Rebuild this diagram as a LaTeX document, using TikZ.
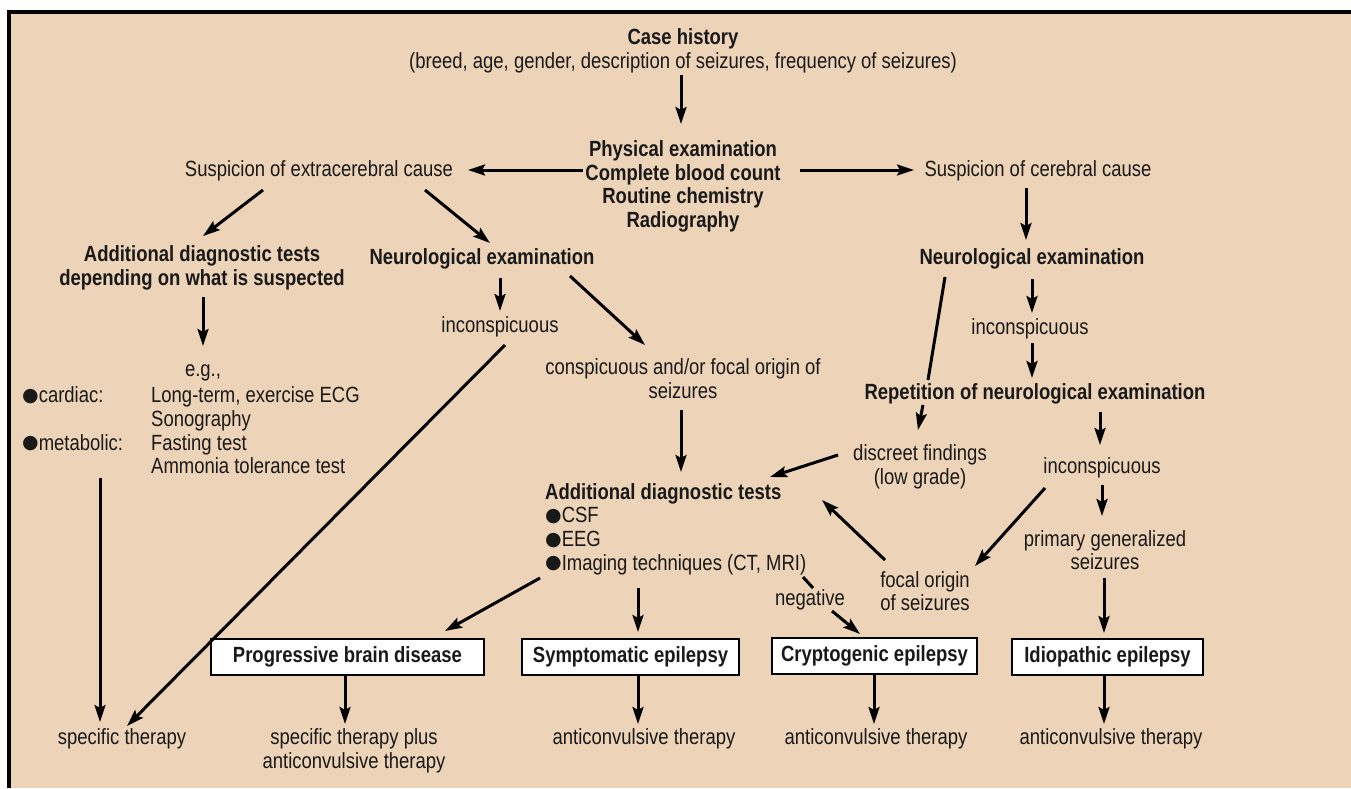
\documentclass[tikz,border=0pt]{standalone}
\usepackage{fontspec}
\setmainfont{Liberation Sans}[FakeStretch=0.84]
\newfontfamily\symfont{DejaVu Sans}
\newcommand\blt{\raisebox{1.5pt}{\symfont\fontsize{19}{23.7}\selectfont ●}}
\usetikzlibrary{arrows.meta,calc}
\definecolor{bg}{RGB}{237,211,183}
\begin{document}
\begin{tikzpicture}[x=1pt,y=-1pt,
  every node/.style={font=\fontsize{22}{23.7}\selectfont, inner sep=2pt, text=black!90},
  txt/.style={align=center},
  bld/.style={align=center, font=\fontsize{22}{23.7}\selectfont\bfseries},
  boxnode/.style={draw=black, line width=2pt, fill=white, minimum height=36pt, font=\fontsize{22}{23.7}\selectfont\bfseries},
  arr/.style={line width=3pt, -{Stealth[length=17pt,width=11pt,inset=3pt]}},
  ln/.style={line width=3pt}]
\useasboundingbox (0,0) rectangle (1351,788);
\fill[white] (0,0) rectangle (1351,788);
\fill[bg] (7,10) rectangle (1351,788);
\draw[line width=3.5pt] (8.75,788) -- (8.75,11.75) -- (1351,11.75);

% nodes
\node[txt] (ch) at (683,51) {{\bfseries Case history}\\(breed, age, gender, description of seizures, frequency of seizures)};
\node[bld] (pe) at (683,186.5) {Physical examination\\Complete blood count\\Routine chemistry\\Radiography};
\node[txt] (ext) at (319,171) {Suspicion of extracerebral cause};
\node[txt] (cer) at (1038,171) {Suspicion of cerebral cause};
\node[bld] (adt1) at (202,268) {Additional diagnostic tests\\depending on what is suspected};
\node[bld] (ne1) at (482,259) {Neurological examination};
\node[txt] (inc1) at (500,327) {inconspicuous};
\node[txt] (consp) at (683,378.5) {conspicuous and/or focal origin of\\seizures};
\node[txt] (eg) at (203,373) {e.g.,};
\node[align=left, anchor=west, inner sep=0pt] (lst) at (22,430.5) {\makebox[129pt][l]{\blt cardiac:}Long-term, exercise ECG\\\hspace*{129pt}Sonography\\\makebox[129pt][l]{\blt metabolic:}Fasting test\\\hspace*{129pt}Ammonia tolerance test};
\node[align=left, anchor=west] (adt2) at (543,529) {{\bfseries Additional diagnostic tests}\\\blt CSF\\\blt EEG\\\blt Imaging techniques (CT, MRI)};
\node[txt] (neg) at (810,600) {negative};
\node[bld] (ne2) at (1032,259) {Neurological examination};
\node[txt] (inc2) at (1030,329) {inconspicuous};
\node[bld] (rep) at (1035,394) {Repetition of neurological examination};
\node[txt] (disc) at (920,467) {discreet findings\\(low grade)};
\node[txt] (inc3) at (1102,468) {inconspicuous};
\node[txt] (pgs) at (1105,550) {primary generalized\\seizures};
\node[txt] (foc) at (925,591) {focal origin\\of seizures};

\node[boxnode, minimum width=273pt] (prog) at (347.5,657) {Progressive brain disease};
\node[boxnode, minimum width=217pt] (sym) at (630.5,657) {Symptomatic epilepsy};
\node[boxnode, minimum width=205pt] (cry) at (874.5,656) {Cryptogenic epilepsy};
\node[boxnode, minimum width=191pt] (idi) at (1107.5,657) {Idiopathic epilepsy};

\node[txt] (st) at (122,739) {specific therapy};
\node[txt] (stp) at (354,751) {specific therapy plus\\anticonvulsive therapy};
\node[txt] (ac1) at (644,739) {anticonvulsive therapy};
\node[txt] (ac2) at (876,739) {anticonvulsive therapy};
\node[txt] (ac3) at (1111,739) {anticonvulsive therapy};

% connectors
\draw[arr] ($(ch)+(-2,24)$) -- ($(pe)+(-2,-62.5)$);
\draw[arr] ($(pe)+(-100,-16.5)$) -- ($(ext)+(149,-1)$);
\draw[arr] ($(pe)+(117,-16.5)$) -- ($(cer)+(-124,-1)$);
\draw[arr] ($(ext)+(-56,19)$) -- ($(adt1)+(1,-32)$);
\draw[arr] ($(ext)+(106,19)$) -- ($(ne1)+(8,-16)$);
\draw[arr] ($(adt1)+(1,29)$) -- ($(eg)+(0,-27)$);
\draw[arr] ($(lst.west)+(78,47.5)$) -- ($(st)+(-22,-17)$);
\draw[arr] ($(ne1)+(18,19)$) -- ($(inc1)+(0,-16)$);
\draw[arr] ($(ne1)+(88,17)$) -- ($(consp)+(-38,-33.5)$);
\draw[arr] ($(inc1)+(5,18)$) -- ($(st)+(5,-13)$);
\draw[arr] ($(consp)+(-2,31.5)$) -- ($(adt2.west)+(138,-57)$);
\draw[arr] ($(adt2.west)+(-3,49)$) -- ($(prog)+(97.5,-26)$);
\draw[arr] ($(adt2.west)+(95,59)$) -- ($(sym)+(7.5,-25)$);
\draw[ln] ($(adt2.west)+(260,48)$) -- ($(neg)+(3,-12)$);
\draw[arr] ($(neg)+(22,11)$) -- ($(cry)+(-14.5,-22)$);
\draw[arr] ($(prog)+(-2.5,19)$) -- ($(stp)+(-9,-27)$);
\draw[arr] ($(sym)+(7.5,19)$) -- ($(ac1)+(-6,-15)$);
\draw[arr] ($(cry)+(-0.5,19)$) -- ($(ac2)+(-2,-15)$);
\draw[arr] ($(idi)+(-3.5,19)$) -- ($(ac3)+(-7,-15)$);
\draw[arr] ($(cer)+(-12,17)$) -- ($(ne2)+(-6,-19)$);
\draw[arr] ($(ne2)+(0,20)$) -- ($(inc2)+(2,-16)$);
\draw[arr] ($(inc2)+(2,14)$) -- ($(rep)+(-3,-16)$);
\draw[ln] ($(ne2)+(-87,18)$) -- ($(rep)+(-107,-14)$);
\draw[arr] ($(rep)+(-112,11)$) -- ($(disc)+(-2,-37)$);
\draw[arr] ($(disc)+(-82,-12)$) -- ($(adt2.west)+(227,-52)$);
\draw[arr] ($(rep)+(65,18)$) -- ($(inc3)+(-2,-23)$);
\draw[arr] ($(inc3)+(0,17)$) -- ($(pgs)+(-3,-34)$);
\draw[arr] ($(inc3)+(-57,20)$) -- ($(foc)+(50,-25)$);
\draw[arr] ($(foc)+(-40,-31)$) -- ($(adt2.west)+(279,-29)$);
\draw[arr] ($(pgs)+(-1,28)$) -- ($(idi)+(-3.5,-24)$);
\end{tikzpicture}
\end{document}
